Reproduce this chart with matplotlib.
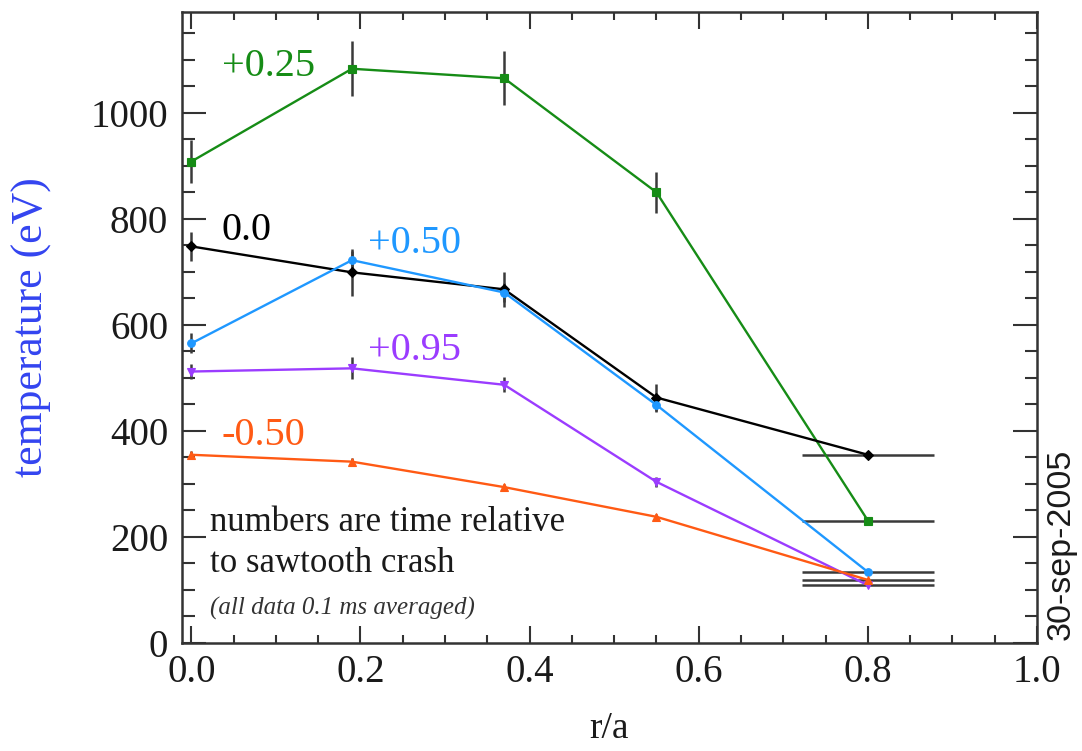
"""
Electron temperature profiles around a sawtooth crash.

Draws Te(r/a) at several times relative to the crash, with the
edge channel carrying a horizontal error bar for its radial extent.
"""

import matplotlib

matplotlib.use("Agg")
import matplotlib.pyplot as plt
from matplotlib.ticker import FormatStrFormatter, MultipleLocator

SERIF = "Liberation Serif"

# radial positions of the channels
r_over_a = [0.0, 0.19, 0.37, 0.55, 0.80]
r_err = [0.0, 0.0, 0.0, 0.0, 0.078]

# Te (eV) and uncertainties per time slice (ms relative to crash)
te_p025 = [908, 1083, 1065, 850, 231]
err_p025 = [40, 52, 51, 39, 4]

te_0 = [748, 699, 667, 463, 355]
err_0 = [27, 45, 33, 26, 4]

te_p050 = [565, 722, 661, 449, 134]
err_p050 = [19, 18, 18, 14, 4]

te_p095 = [512, 518, 487, 304, 109]
err_p095 = [14, 21, 14, 9, 4]

te_m050 = [355, 342, 294, 238, 119]
err_m050 = [7, 7, 6, 6, 4]

series = [
    ("+0.25", te_p025, err_p025, "#168c16", "s", (0.036, 1069)),
    ("0.0", te_0, err_0, "black", "D", (0.036, 760)),
    ("+0.50", te_p050, err_p050, "#1f98ff", "o", (0.209, 736)),
    ("+0.95", te_p095, err_p095, "#9b3cff", "v", (0.209, 534)),
    ("-0.50", te_m050, err_m050, "#ff5a14", "^", (0.036, 374)),
]

plt.rcParams["font.family"] = SERIF

fig = plt.figure(figsize=(10.82, 7.51), dpi=100)
ax = fig.add_axes([0.1682, 0.1438, 0.7902, 0.8402])

for label, te, err, color, marker, (tx, ty) in series:
    ax.errorbar(
        r_over_a, te, yerr=err, xerr=r_err, fmt="none",
        ecolor="#3a3a3a", elinewidth=1.8, capsize=0, zorder=2,
    )
    ax.plot(
        r_over_a, te, color=color, lw=1.7, marker=marker, ms=5.5,
        markeredgewidth=0.8, markeredgecolor=color, zorder=3,
    )
    ax.text(tx, ty, label, color=color, fontsize=29, ha="left", va="baseline")

ax.text(0.022, 211, "numbers are time relative", fontsize=25, color="#1a1a1a", va="baseline")
ax.text(0.022, 134, "to sawtooth crash", fontsize=25, color="#1a1a1a", va="baseline")
ax.text(0.022, 53, "(all data 0.1 ms averaged)", fontsize=18, style="italic",
        color="#333333", va="baseline")

ax.set_xlim(-0.011, 1.0)
ax.set_ylim(0, 1190)

ax.xaxis.set_major_locator(MultipleLocator(0.2))
ax.xaxis.set_minor_locator(MultipleLocator(0.05))
ax.xaxis.set_major_formatter(FormatStrFormatter("%.1f"))
ax.yaxis.set_major_locator(MultipleLocator(200))
ax.yaxis.set_minor_locator(MultipleLocator(50))

ax.tick_params(axis="both", which="both", direction="in", top=True, right=True,
               color="#333333", width=1.5, labelsize=28, labelcolor="#1a1a1a")
ax.tick_params(axis="x", which="major", length=12, pad=8)
ax.tick_params(axis="x", which="minor", length=6)
ax.tick_params(axis="y", which="major", length=17, pad=10)
ax.tick_params(axis="y", which="minor", length=9)
for spine in ax.spines.values():
    spine.set_color("#333333")
    spine.set_linewidth(1.8)

ax.set_xlabel("r/a", fontsize=27, color="#1a1a1a")
ax.xaxis.set_label_coords(0.5, -0.108)
ax.set_ylabel("temperature (eV)", fontsize=31.5, color="#3344f0")
ax.yaxis.set_label_coords(-0.152, 0.5)

fig.text(0.981, 0.2756, "30-sep-2005", rotation=90, ha="center", va="center",
         fontsize=24.5, family="Liberation Sans", color="#1a1a1a")

fig.savefig("out.png", dpi=100)
plt.close(fig)
